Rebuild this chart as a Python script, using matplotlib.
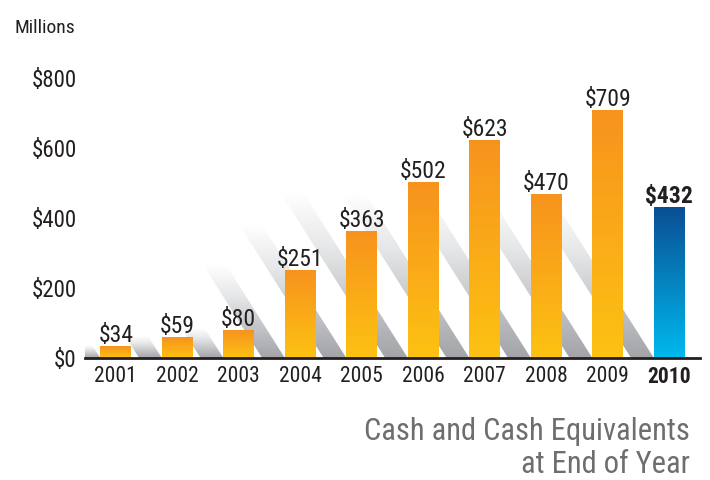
import numpy as np
import matplotlib
matplotlib.use("Agg")
import matplotlib.pyplot as plt
from matplotlib.colors import LinearSegmentedColormap
from matplotlib.patches import Polygon

# data
years = ["2001", "2002", "2003", "2004", "2005", "2006", "2007", "2008", "2009", "2010"]
cash = [34, 59, 80, 251, 363, 502, 623, 470, 709, 432]
value_labels = ["$34", "$59", "$80", "$251", "$363", "$502", "$623", "$470", "$709", "$432"]
y_ticks = [0, 200, 400, 600, 800]
y_tick_labels = ["$0", "$200", "$400", "$600", "$800"]

plt.rcParams['font.family'] = ['Roboto Condensed', 'DejaVu Sans']
dark = '#231f20'
grey_txt = '#6d6e71'

fig = plt.figure(figsize=(7.1, 4.8), dpi=100)
ax = fig.add_axes([85 / 710, 122 / 480, 615 / 710, 280 / 480])

orange = LinearSegmentedColormap.from_list('orange', ['#fdc212', '#f7931e'])
blue = LinearSegmentedColormap.from_list('blue', ['#00b9ee', '#0a4e93'])
shade = LinearSegmentedColormap.from_list('shade', ['#a3a4a8', '#c4c5c8', '#e6e7e8', '#ffffff'])
grad = np.linspace(0, 1, 256).reshape(-1, 1)

x = np.arange(len(years))
bars = ax.bar(x, cash, width=0.5, color='none', edgecolor='none', zorder=3)

# diagonal shadow strips behind the bars
slope = 0.0036   # x shift per $ of height
sw = 0.37        # strip width in x units
for b in bars:
    x0 = b.get_x()
    h = min(b.get_height() * 1.05, 470)
    pts = [(x0 - sw, 0), (x0, 0), (x0 - slope * h, h), (x0 - sw - slope * h, h)]
    poly = Polygon(pts, closed=True, facecolor='none', edgecolor='none')
    ax.add_patch(poly)
    im = ax.imshow(grad, cmap=shade, origin='lower', aspect='auto',
                   extent=(x0 - sw - slope * h, x0, 0, h), zorder=1)
    im.set_clip_path(poly)

# gradient bars
for i, b in enumerate(bars):
    cm = blue if i == len(bars) - 1 else orange
    im = ax.imshow(grad, cmap=cm, origin='lower', aspect='auto',
                   extent=(b.get_x(), b.get_x() + b.get_width(), 0, b.get_height()), zorder=3)
    im.set_clip_path(b)
    ax.annotate(value_labels[i], (b.get_x() + b.get_width() / 2, b.get_height()),
                xytext=(0, 4), textcoords='offset pixels', ha='center', va='baseline',
                fontsize=17, color=dark,
                fontweight='bold' if i == len(bars) - 1 else 'normal')

ax.set_xlim(-0.5, len(years) - 0.5)
ax.set_ylim(0, 800)
ax.set_xticks(x)
ax.set_xticklabels(years)
ax.set_yticks(y_ticks)
ax.set_yticklabels(y_tick_labels)
ax.get_xticklabels()[-1].set_fontweight('bold')
ax.tick_params(axis='x', length=0, pad=6, labelsize=15.5, colors=dark)
ax.tick_params(axis='y', length=0, pad=6, labelsize=16.5, colors=dark)

for s in ['left', 'top', 'right']:
    ax.spines[s].set_visible(False)
ax.spines['bottom'].set_linewidth(2)
ax.spines['bottom'].set_color(dark)
ax.spines['bottom'].set_zorder(5)

fig.text(15 / 710, 1 - 33 / 480, "Millions", fontsize=14, color=dark, va='baseline')
fig.text(690 / 710, 1 - 440 / 480, "Cash and Cash Equivalents", fontsize=22,
         color=grey_txt, ha='right', va='baseline')
fig.text(690 / 710, 1 - 473 / 480, "at End of Year", fontsize=22,
         color=grey_txt, ha='right', va='baseline')

fig.savefig("out.png", dpi=100)
